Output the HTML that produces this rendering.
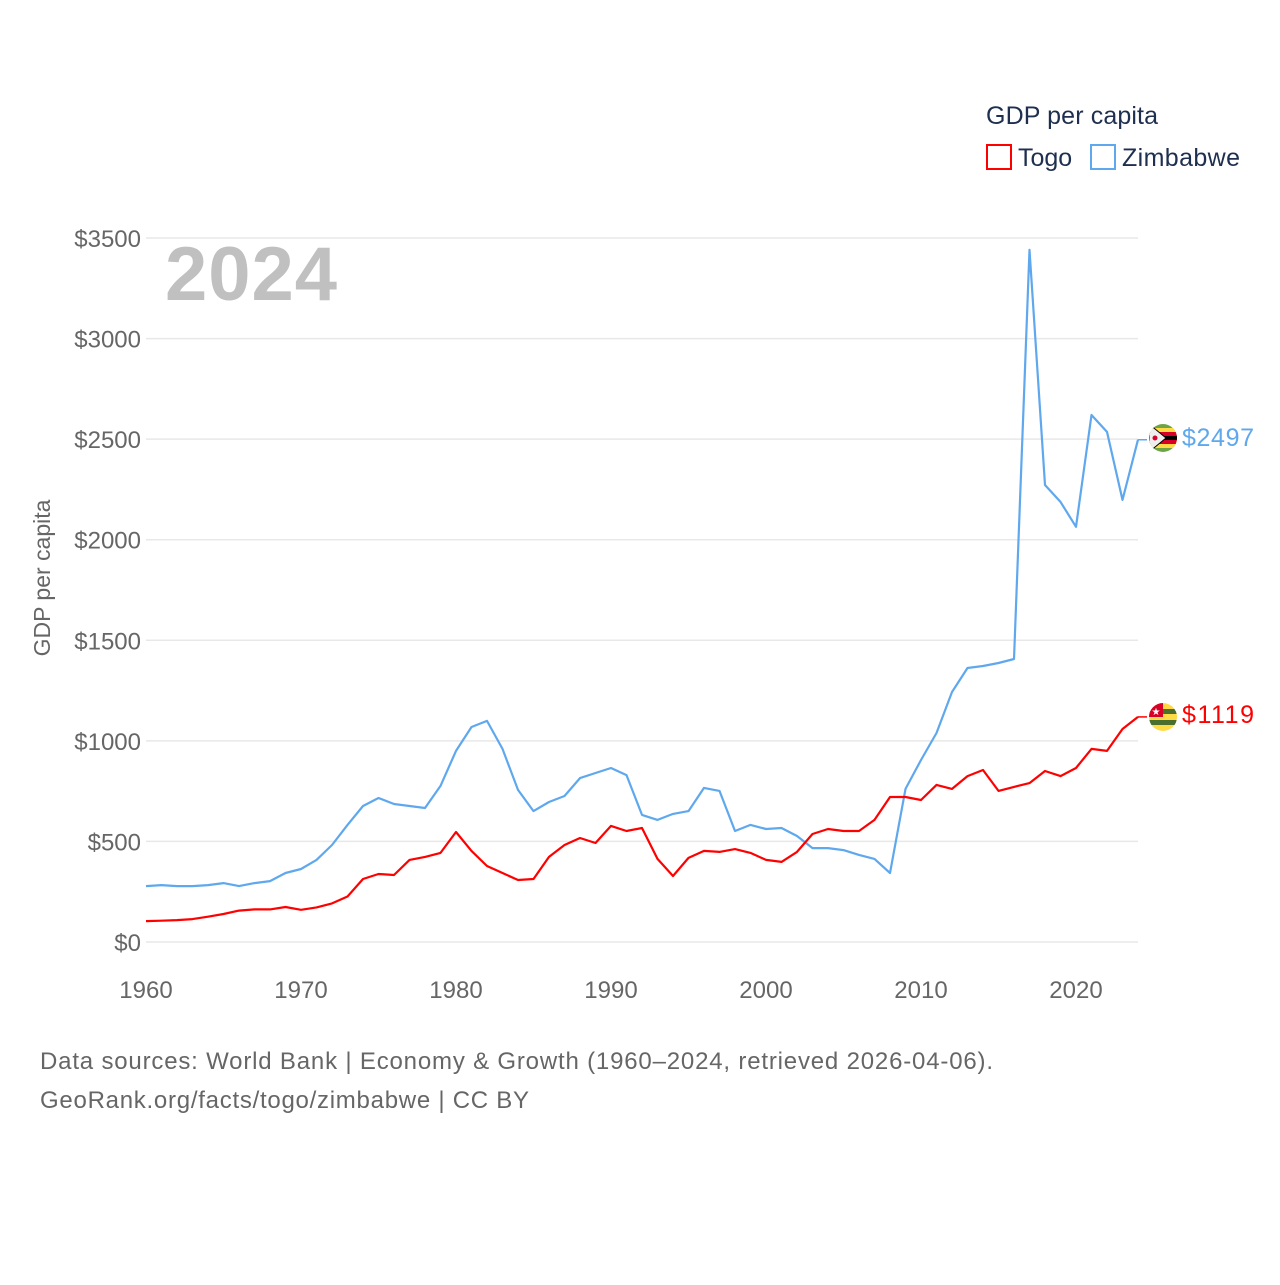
<!DOCTYPE html>
<html><head><meta charset="utf-8"><style>
body{margin:0;background:#fff;}
svg text{font-family:"Liberation Sans",sans-serif;}
</style></head><body>
<svg id="chart" width="1280" height="1280" viewBox="0 0 1280 1280" xmlns="http://www.w3.org/2000/svg">
<defs>
<clipPath id="cz"><circle cx="1163" cy="438" r="14"/></clipPath>
<clipPath id="ct"><circle cx="1163" cy="717" r="14"/></clipPath>
</defs>
<g id="grid"></g>
<g id="yticks"></g>
<g id="xticks"></g>
<text x="165" y="300" font-size="76" font-weight="bold" fill="#c0c0c0" textLength="172">2024</text>
<text transform="translate(50,578) rotate(-90)" text-anchor="middle" font-size="23" fill="#666">GDP per capita</text>
<g id="lines"></g>
<g clip-path="url(#cz)">
<rect x="1149" y="424" width="28" height="28" fill="#6da544"/>
<rect x="1149" y="428" width="28" height="20" fill="#ffda44"/>
<rect x="1149" y="432" width="28" height="12" fill="#d80027"/>
<rect x="1149" y="436" width="28" height="4" fill="#000"/>
<polygon points="1149,424 1166,438 1149,452" fill="#eee" stroke="#000" stroke-width="1"/>
<circle cx="1155" cy="438" r="2.5" fill="#d80027"/>
</g>
<g clip-path="url(#ct)">
<rect x="1149" y="703" width="28" height="28" fill="#ffda44"/>
<rect x="1149" y="709" width="28" height="5" fill="#496e2d"/>
<rect x="1149" y="720" width="28" height="5" fill="#496e2d"/>
<rect x="1149" y="703" width="14" height="14" fill="#d80027"/>
<text x="1156" y="715" font-size="10" fill="#fff" text-anchor="middle">★</text>
</g>
<text x="1182" y="446" font-size="25" fill="#5fa8ee" textLength="72">$2497</text>
<text x="1182" y="723" font-size="25" fill="#ff0000" textLength="72">$1119</text>
<text x="986" y="124" font-size="25" fill="#1e2f4f" textLength="172">GDP per capita</text>
<g>
<rect x="987" y="145" width="24" height="24" fill="none" stroke="#ff0000" stroke-width="2"/>
<text x="1018" y="166" font-size="25" fill="#1e2f4f">Togo</text></g>
<g>
<rect x="1091" y="145" width="24" height="24" fill="none" stroke="#5fa8ee" stroke-width="2"/>
<text x="1122" y="166" font-size="25" fill="#1e2f4f" textLength="118">Zimbabwe</text></g>
<text x="40" y="1069" font-size="24" fill="#666" textLength="953">Data sources: World Bank | Economy &amp; Growth (1960–2024, retrieved 2026-04-06).</text>
<text x="40" y="1108" font-size="24" fill="#666" textLength="489">GeoRank.org/facts/togo/zimbabwe | CC BY</text>
</svg>
<script>
const years=[];for(let y=1960;y<=2024;y++)years.push(y);
const zimbabwe=[278,283,278,278,283,293,278,293,303,343,363,408,482,582,676,716,686,676,666,776,950,1069,1099,960,756,651,696,726,815,840,865,830,632,607,637,651,766,751,552,582,562,567,527,467,467,457,433,413,343,761,905,1039,1243,1362,1372,1387,1407,3441,2272,2188,2064,2620,2536,2198,2497];
const togo=[104,106,109,114,126,139,156,162,162,174,160,172,192,226,313,338,333,408,423,443,547,453,378,343,308,313,423,482,517,492,577,552,567,413,328,418,453,448,462,443,408,398,448,537,562,552,552,607,721,721,706,781,761,825,855,751,771,790,850,825,865,960,950,1059,1119];
const yTicks=[0,500,1000,1500,2000,2500,3000,3500];
const xTicks=[1960,1970,1980,1990,2000,2010,2020];
const NS="http://www.w3.org/2000/svg";
const X=v=>146+(v-1960)*15.5;
const Y=v=>942-v*(704/3500);
function mk(tag,attrs,parent){const e=document.createElementNS(NS,tag);for(const k in attrs)e.setAttribute(k,attrs[k]);parent.appendChild(e);return e;}
const grid=document.getElementById('grid'),yt=document.getElementById('yticks'),xt=document.getElementById('xticks'),lines=document.getElementById('lines');
yTicks.forEach(v=>{
 const l=mk('line',{x1:146,x2:1138,y1:Y(v),y2:Y(v),stroke:'#e8e8e8','stroke-width':1.5},grid);
 
 
 const t=mk('text',{x:141,y:Y(v)+9,'text-anchor':'end','font-size':24,fill:'#666'},yt);
 t.textContent='$'+v;
 
 
});
xTicks.forEach(v=>{
 const t=mk('text',{x:X(v),y:998,'text-anchor':'middle','font-size':24,fill:'#666'},xt);
 t.textContent=v;
 
 
});
function line(data,color,name){
 let d=data.map((v,i)=>(i?'L':'M')+X(years[i]).toFixed(1)+','+Y(v).toFixed(1)).join('');
 const p=mk('path',{d:d,fill:'none',stroke:color,'stroke-width':2.2,'stroke-linejoin':'round'},lines);
 
 
 const last=data[data.length-1];
 const c=mk('line',{x1:X(2024),y1:Y(last),x2:1147,y2:Y(last),stroke:color,'stroke-width':1.5},lines);
 
 
}
line(zimbabwe,'#5fa8ee','zimbabwe-line');
line(togo,'#ff0000','togo-line');
</script>
</body></html>
